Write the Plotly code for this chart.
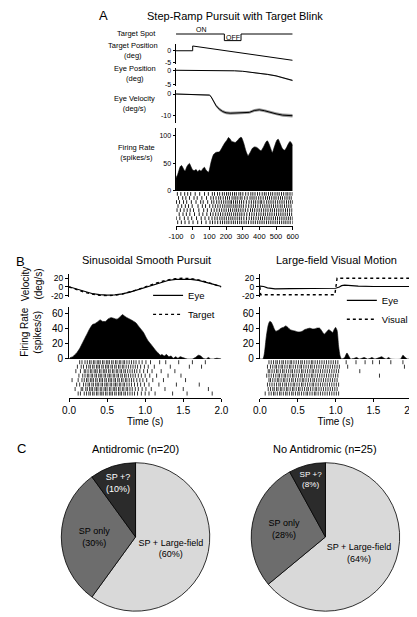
import plotly.graph_objects as go

W, H = 417, 617
FONT = "Liberation Sans, Arial, sans-serif"

# ---------------- Panel A data (time in ms) ----------------
spot_t = [-100, 190, 190, 290, 290, 600]
spot_level = [1, 1, 0, 0, 1, 1]

tpos_t = [-100, 0, 0, 600]
tpos = [0, 0, 2, -4]

epos_t = [-100, 0, 100, 150, 200, 250, 300, 350, 400, 450, 500, 550, 600]
epos = [0.05, 0.05, 0, -0.05, -0.1, -0.15, -0.3, -0.6, -1.0, -1.4, -1.9, -2.6, -3.5]
epos_sem = [0.05, 0.05, 0.05, 0.05, 0.08, 0.1, 0.12, 0.15, 0.18, 0.2, 0.22, 0.25, 0.28]

evel_t = [-100, 0, 100, 110, 125, 140, 160, 180, 200, 225, 260, 290, 340, 370, 400, 430, 460, 500, 540, 600]
evel = [0, -0.2, -0.5, -1.2, -3.5, -5.5, -7.2, -8.3, -8.9, -9.1, -9.0, -8.8, -8.7, -7.8, -7.5, -7.9, -8.6, -9.4, -10.0, -10.3]
evel_sem = [0.2, 0.2, 0.3, 0.4, 0.5, 0.6, 0.7, 0.7, 0.7, 0.7, 0.7, 0.7, 0.7, 0.7, 0.7, 0.7, 0.7, 0.8, 0.8, 0.8]

fr_a_t = [-100, -90, -75, -67, -55, -46, -35, -20, -10, 0, 10, 20, 30, 40, 50, 60, 70, 80, 95,
          110, 125, 140, 160, 175, 190, 205, 215, 225, 234, 245, 255, 270, 285, 293, 305, 320,
          332, 345, 360, 371, 385, 400, 410, 425, 440, 448, 460, 478, 490, 505, 513, 525, 540,
          552, 565, 575, 584, 595, 600]
fr_a = [24, 30, 44, 46, 40, 36, 44, 50, 44, 38, 37, 39, 35, 38, 36, 40, 43, 38, 34,
        52, 66, 70, 71, 78, 86, 92, 97, 94, 90, 89, 88, 92, 97, 97, 88, 72,
        64, 70, 78, 80, 79, 75, 73, 80, 89, 91, 84, 70, 80, 92, 94, 86, 76,
        74, 80, 86, 90, 86, 82]

raster_a = [
    [-92, -71, -48, -30, -12, 15, 42, 71, 94, 118, 131, 149, 162, 178, 190, 203, 214, 226, 239, 251, 262, 277, 288, 301, 318, 333, 349, 361, 374, 389, 402, 417, 430, 441, 455, 468, 480, 494, 507, 519, 533, 546, 560, 571, 584, 597],
    [-85, -60, -41, -19, 8, 27, 55, 83, 109, 124, 140, 156, 168, 183, 197, 209, 221, 236, 248, 259, 271, 285, 296, 312, 327, 344, 356, 368, 381, 396, 409, 423, 437, 449, 461, 474, 488, 500, 514, 527, 539, 553, 566, 579, 591],
    [-97, -79, -55, -36, -8, 20, 48, 63, 90, 114, 127, 144, 158, 172, 186, 199, 212, 224, 233, 245, 257, 268, 281, 293, 306, 322, 338, 352, 366, 378, 392, 405, 414, 428, 444, 457, 470, 483, 496, 510, 523, 536, 549, 563, 576, 588, 599],
    [-88, -66, -44, -25, -3, 32, 58, 77, 102, 121, 136, 151, 165, 180, 193, 206, 218, 230, 243, 255, 266, 279, 291, 304, 320, 336, 351, 364, 377, 391, 406, 420, 433, 446, 459, 472, 485, 498, 511, 525, 537, 551, 564, 577, 590],
    [-94, -74, -52, -33, -15, 5, 37, 66, 88, 112, 129, 145, 160, 174, 188, 201, 215, 227, 240, 253, 264, 276, 289, 302, 316, 331, 347, 359, 372, 386, 399, 412, 426, 439, 452, 466, 478, 491, 504, 517, 530, 543, 557, 569, 582, 595],
    [-81, -58, -38, -17, 11, 39, 61, 85, 107, 122, 138, 153, 167, 181, 195, 208, 220, 232, 246, 258, 270, 283, 295, 309, 325, 341, 355, 369, 383, 397, 410, 424, 436, 450, 463, 476, 490, 503, 516, 529, 542, 555, 568, 581, 594],
    [-99, -77, -50, -28, -6, 23, 51, 74, 97, 116, 133, 147, 163, 176, 189, 202, 216, 229, 241, 254, 267, 280, 292, 307, 323, 339, 353, 366, 380, 394, 407, 419, 432, 445, 458, 471, 484, 497, 509, 522, 535, 548, 561, 574, 586, 598],
    [-90, -68, -46, -22, 2, 30, 53, 80, 104, 119, 134, 150, 166, 179, 192, 205, 217, 231, 244, 256, 269, 282, 294, 308, 321, 335, 350, 363, 376, 390, 403, 416, 429, 443, 456, 469, 482, 495, 508, 521, 534, 547, 559, 572, 585, 600],
]
a_ticks = [-100, 0, 100, 200, 300, 400, 500, 600]

# ---------------- Panel B data (time in s) ----------------
sin_t = [0.0, 0.1, 0.2, 0.3, 0.4, 0.5, 0.6, 0.7, 0.8, 0.9, 1.0, 1.1, 1.2, 1.3, 1.4, 1.5, 1.6, 1.7, 1.8, 1.9, 2.0]
sin_target = [0, -6.2, -11.8, -16.2, -19.0, -20.0, -19.0, -16.2, -11.8, -6.2, 0, 6.2, 11.8, 16.2, 19.0, 20.0, 19.0, 16.2, 11.8, 6.2, 0]
sin_eye = [0.5, -5.0, -10.8, -15.0, -17.6, -18.8, -18.2, -16.0, -12.0, -6.6, -0.8, 5.2, 10.6, 14.8, 17.2, 18.0, 17.4, 15.2, 11.2, 6.0, 1.0]

fr_sin_t = [0.0, 0.02, 0.05, 0.07, 0.10, 0.14, 0.18, 0.21, 0.24, 0.27, 0.31, 0.34, 0.37, 0.41, 0.44, 0.48,
            0.51, 0.55, 0.59, 0.63, 0.67, 0.70, 0.73, 0.76, 0.80, 0.85, 0.88, 0.91, 0.95, 0.98, 1.01,
            1.04, 1.08, 1.11, 1.15, 1.18, 1.20, 1.22, 1.25, 1.28, 1.31, 1.34, 1.37, 1.40, 1.43, 1.46,
            1.49, 1.52, 1.55, 1.62, 1.66, 1.70, 1.73, 1.76, 1.80, 1.83, 1.86, 1.90, 1.94, 2.0]
fr_sin = [0, 2, 3, 5, 8, 14, 22, 28, 34, 40, 46, 47, 49, 52, 50, 50,
          53, 55, 54, 53, 56, 59, 57, 55, 53, 50, 48, 44, 39, 35, 29,
          24, 19, 15, 10, 7, 5, 6, 4, 6, 3, 4, 1, 3, 1, 3,
          2, 1, 0, 0, 2, 5, 4, 1, 0, 2, 0, 0, 1, 0]

raster_sin = [
    [0.14, 0.17, 0.21, 0.24, 0.27, 0.29, 0.32, 0.34, 0.37, 0.39, 0.41, 0.44, 0.46, 0.49, 0.51, 0.53, 0.56, 0.58, 0.61, 0.63, 0.66, 0.68, 0.71, 0.73, 0.76, 0.79, 0.82, 0.85, 0.88, 0.92, 0.96, 1.01, 1.07, 1.19, 1.27, 1.44, 1.62, 1.79],
    [0.11, 0.16, 0.19, 0.23, 0.26, 0.28, 0.31, 0.33, 0.36, 0.38, 0.40, 0.43, 0.45, 0.48, 0.50, 0.52, 0.55, 0.57, 0.60, 0.62, 0.65, 0.67, 0.70, 0.72, 0.75, 0.78, 0.81, 0.84, 0.87, 0.90, 0.94, 0.99, 1.04, 1.12, 1.33, 1.58, 1.74],
    [0.09, 0.15, 0.20, 0.22, 0.25, 0.28, 0.30, 0.33, 0.35, 0.37, 0.40, 0.42, 0.45, 0.47, 0.49, 0.52, 0.54, 0.57, 0.59, 0.62, 0.64, 0.67, 0.69, 0.72, 0.74, 0.77, 0.80, 0.83, 0.86, 0.89, 0.93, 0.98, 1.03, 1.09, 1.21, 1.39],
    [0.13, 0.18, 0.21, 0.24, 0.26, 0.29, 0.31, 0.34, 0.36, 0.39, 0.41, 0.43, 0.46, 0.48, 0.51, 0.53, 0.55, 0.58, 0.60, 0.63, 0.65, 0.68, 0.70, 0.73, 0.75, 0.78, 0.81, 0.84, 0.87, 0.91, 0.95, 1.00, 1.06, 1.15, 1.30, 1.47],
    [0.04, 0.12, 0.17, 0.20, 0.23, 0.25, 0.28, 0.30, 0.32, 0.35, 0.37, 0.40, 0.42, 0.44, 0.47, 0.49, 0.52, 0.54, 0.56, 0.59, 0.61, 0.64, 0.66, 0.69, 0.71, 0.74, 0.76, 0.79, 0.82, 0.85, 0.89, 0.93, 0.97, 1.02, 1.10, 1.24, 1.53],
    [0.10, 0.14, 0.19, 0.22, 0.25, 0.27, 0.30, 0.32, 0.35, 0.37, 0.39, 0.42, 0.44, 0.47, 0.49, 0.51, 0.54, 0.56, 0.59, 0.61, 0.63, 0.66, 0.68, 0.71, 0.73, 0.76, 0.79, 0.82, 0.86, 0.90, 0.94, 0.99, 1.05, 1.18, 1.41, 1.71],
    [0.08, 0.16, 0.18, 0.22, 0.24, 0.27, 0.29, 0.31, 0.34, 0.36, 0.38, 0.41, 0.43, 0.46, 0.48, 0.50, 0.53, 0.55, 0.58, 0.60, 0.62, 0.65, 0.67, 0.70, 0.72, 0.75, 0.77, 0.80, 0.83, 0.87, 0.91, 0.96, 1.01, 1.08, 1.26, 1.50, 1.83],
    [0.12, 0.15, 0.20, 0.23, 0.26, 0.28, 0.31, 0.33, 0.36, 0.38, 0.41, 0.43, 0.45, 0.48, 0.50, 0.53, 0.55, 0.57, 0.60, 0.62, 0.65, 0.67, 0.69, 0.72, 0.74, 0.77, 0.80, 0.83, 0.86, 0.90, 0.95, 1.00, 1.05, 1.13, 1.36, 1.55, 1.88],
]

lf_eye_t = [0, 0.05, 0.1, 0.15, 0.2, 0.4, 0.6, 0.8, 0.95, 1.0, 1.05, 1.08, 1.12, 1.2, 1.3, 1.5, 1.7, 1.9, 2.0]
lf_eye = [2, 1, -2, -4, -4.5, -4, -4, -3.5, -3, -3, 0, 3, 4, 3, 2, 1, 1.5, 1, 1]
lf_vis_t = [0, 0.01, 0.99, 1.02, 1.99, 2.0]
lf_vis = [0, -18, -18, 20, 20, 0]

fr_lf_t = [0.0, 0.04, 0.06, 0.085, 0.11, 0.13, 0.15, 0.17, 0.19, 0.21, 0.24, 0.28, 0.31, 0.34, 0.37,
           0.40, 0.43, 0.47, 0.50, 0.53, 0.56, 0.59, 0.62, 0.66, 0.69, 0.72, 0.75, 0.79, 0.82, 0.85,
           0.88, 0.91, 0.94, 0.96, 0.98, 1.00, 1.02, 1.04, 1.06, 1.08, 1.12, 1.15, 1.18, 1.20, 1.25,
           1.28, 1.31, 1.35, 1.38, 1.42, 1.46, 1.48, 1.52, 1.58, 1.61, 1.64, 1.67, 1.70, 1.73, 1.86,
           1.89, 1.92, 1.95, 2.0]
fr_lf = [0, 0, 8, 30, 45, 50, 49, 45, 40, 37, 38, 41, 42, 44, 42,
         39, 38, 37, 36, 36, 37, 39, 40, 41, 40, 40, 41, 41, 37, 33,
         36, 39, 37, 35, 39, 42, 38, 17, 4, 0, 2, 8, 3, 0, 1,
         2, 0, 1, 2, 0, 1, 2, 0, 2, 3, 1, 0, 2, 0, 0,
         5, 2, 0, 0]

raster_lf = [
    [0.12, 0.15, 0.18, 0.21, 0.23, 0.26, 0.29, 0.31, 0.34, 0.37, 0.40, 0.42, 0.45, 0.48, 0.51, 0.54, 0.56, 0.59, 0.62, 0.65, 0.68, 0.70, 0.73, 0.76, 0.79, 0.82, 0.85, 0.88, 0.91, 0.94, 0.97, 1.00, 1.03, 1.14, 1.27, 1.39, 1.49, 1.58, 1.73, 1.89],
    [0.10, 0.14, 0.17, 0.20, 0.22, 0.25, 0.28, 0.30, 0.33, 0.36, 0.39, 0.41, 0.44, 0.47, 0.50, 0.53, 0.55, 0.58, 0.61, 0.64, 0.67, 0.69, 0.72, 0.75, 0.78, 0.81, 0.84, 0.87, 0.90, 0.93, 0.96, 0.99, 1.02, 1.05, 1.16, 1.91],
    [0.11, 0.13, 0.16, 0.19, 0.22, 0.24, 0.27, 0.30, 0.32, 0.35, 0.38, 0.41, 0.43, 0.46, 0.49, 0.52, 0.55, 0.57, 0.60, 0.63, 0.66, 0.69, 0.71, 0.74, 0.77, 0.80, 0.83, 0.86, 0.89, 0.92, 0.95, 0.98, 1.01, 1.04, 1.32],
    [0.09, 0.12, 0.15, 0.18, 0.21, 0.24, 0.26, 0.29, 0.32, 0.34, 0.37, 0.40, 0.43, 0.45, 0.48, 0.51, 0.54, 0.56, 0.59, 0.62, 0.65, 0.68, 0.70, 0.73, 0.76, 0.79, 0.82, 0.85, 0.88, 0.91, 0.94, 0.97, 1.00, 1.03, 1.58],
    [0.12, 0.14, 0.17, 0.20, 0.23, 0.25, 0.28, 0.31, 0.33, 0.36, 0.39, 0.42, 0.44, 0.47, 0.50, 0.53, 0.56, 0.58, 0.61, 0.64, 0.67, 0.70, 0.72, 0.75, 0.78, 0.81, 0.84, 0.87, 0.90, 0.93, 0.96, 0.99, 1.02],
    [0.10, 0.13, 0.16, 0.19, 0.22, 0.25, 0.27, 0.30, 0.33, 0.35, 0.38, 0.41, 0.44, 0.46, 0.49, 0.52, 0.55, 0.57, 0.60, 0.63, 0.66, 0.69, 0.71, 0.74, 0.77, 0.80, 0.83, 0.86, 0.89, 0.92, 0.95, 0.98, 1.01, 1.04],
    [0.11, 0.14, 0.17, 0.19, 0.22, 0.24, 0.27, 0.29, 0.32, 0.35, 0.37, 0.40, 0.43, 0.45, 0.48, 0.51, 0.53, 0.56, 0.59, 0.62, 0.64, 0.67, 0.70, 0.73, 0.75, 0.78, 0.81, 0.84, 0.87, 0.90, 0.93, 0.96, 0.99, 1.02],
    [0.07, 0.12, 0.15, 0.18, 0.20, 0.23, 0.26, 0.28, 0.31, 0.34, 0.36, 0.39, 0.42, 0.44, 0.47, 0.50, 0.52, 0.55, 0.58, 0.61, 0.63, 0.66, 0.69, 0.72, 0.74, 0.77, 0.80, 0.83, 0.86, 0.89, 0.92, 0.95, 0.98, 1.01, 1.04],
]
b_ticks = [0.0, 0.5, 1.0, 1.5, 2.0]

# ---------------- Panel C data ----------------
pie_labels = ["SP + Large-field", "SP only", "SP +?"]
anti_counts = [12, 6, 2]
noanti_counts = [16, 7, 2]
pie_colors = ["#d9d9d9", "#6d6d6d", "#2b2b2b"]
pie_text_colors = ["black", "black", "white"]


# ---------------- helpers ----------------
def dx(a, b):
    return [a / W, b / W]


def dy(top, bottom):
    return [1 - bottom / H, 1 - top / H]


def px(x, y):
    return x / W, 1 - y / H


def raster_xy(rows):
    xs, ys = [], []
    for i, row in enumerate(rows):
        for t in row:
            xs += [t, t, None]
            ys += [i + 0.05, i + 0.95, None]
    return xs, ys


fig = go.Figure()
layout = {}

hidden = dict(visible=False, showgrid=False, zeroline=False, fixedrange=True)


def yvis(size, ticks, texts, tl=2.5):
    return dict(visible=True, showgrid=False, zeroline=False, showline=True, linecolor="black",
                linewidth=1, ticks="outside", ticklen=tl, tickwidth=1, tickcolor="black",
                tickvals=ticks, ticktext=texts, tickfont=dict(size=size, color="black", family=FONT),
                fixedrange=True)


def xvis(size, ticks, texts, tl=3):
    return dict(visible=True, showgrid=False, zeroline=False, showline=True, linecolor="black",
                linewidth=1, ticks="outside", ticklen=tl, tickwidth=1, tickcolor="black",
                tickvals=ticks, ticktext=texts, tickfont=dict(size=size, color="black", family=FONT),
                fixedrange=True)


def axes(n, xd, yd, xr, yr, xextra=None, yextra=None):
    xk = "xaxis" if n == 1 else f"xaxis{n}"
    yk = "yaxis" if n == 1 else f"yaxis{n}"
    xa = dict(hidden) if xextra is None else xextra
    ya = dict(hidden) if yextra is None else yextra
    xa.update(domain=xd, range=xr, anchor=f"y{n}" if n > 1 else "y")
    ya.update(domain=yd, range=yr, anchor=f"x{n}" if n > 1 else "x")
    layout[xk] = xa
    layout[yk] = ya
    return ("x" if n == 1 else f"x{n}"), ("y" if n == 1 else f"y{n}")


A_X = dx(166, 287)
A_R = [-100, 600]
AT = 7  # panel A tick font

# Panel A axes
ax1 = axes(1, A_X, dy(19, 34), A_R, [-0.3, 1.94])
ax2 = axes(2, A_X, dy(35, 56), A_R, [-5.7, 3.0], yextra=yvis(AT, [0, -5], ["0", "-5"]))
ax3 = axes(3, A_X, dy(59.5, 77.5), A_R, [-5.3, 0.9], yextra=yvis(AT, [0, -5], ["0", "-5"]))
ax4 = axes(4, A_X, dy(82, 115), A_R, [-13.6, 1.88], yextra=yvis(AT, [0, -10], ["0", "-10"]))
ax5 = axes(5, A_X, dy(120, 184), A_R, [0, 115], yextra=yvis(AT, [0, 50, 100], ["0", "50", "100"]))
ax6 = axes(6, A_X, dy(185, 219), A_R, [8.3, 0],
           xextra=xvis(7.5, a_ticks, [str(v) for v in a_ticks], tl=3))

# Panel B axes
BL_X = dx(55, 213)
BR_X = dx(253, 410)
B_R = [0, 2.0]
vel_ticks = [20, 0, -20]
fr_ticks = [0, 20, 40, 60]
ax7 = axes(7, BL_X, dy(268, 291), B_R, [-22.3, 29.7], yextra=yvis(8.5, vel_ticks, [str(v) for v in vel_ticks], 3))
ax8 = axes(8, BL_X, dy(301, 354), B_R, [0, 69.7], yextra=yvis(10, fr_ticks, [str(v) for v in fr_ticks], 3))
ax9 = axes(9, BL_X, dy(355, 393), B_R, [8.4, 0],
           xextra=xvis(10, b_ticks, [f"{v:.1f}" for v in b_ticks], tl=3))
layout["xaxis9"]["title"] = dict(text="Time (s)", font=dict(size=10, family=FONT, color="black"), standoff=1)
ax10 = axes(10, BR_X, dy(268, 291), B_R, [-22.3, 29.7], yextra=yvis(8.5, vel_ticks, [str(v) for v in vel_ticks], 3))
ax11 = axes(11, BR_X, dy(301, 354), B_R, [0, 69.7], yextra=yvis(10, fr_ticks, [str(v) for v in fr_ticks], 3))
ax12 = axes(12, BR_X, dy(355, 393), B_R, [8.4, 0],
            xextra=xvis(10, b_ticks, [f"{v:.1f}" for v in b_ticks], tl=3))
layout["xaxis12"]["title"] = dict(text="Time (s)", font=dict(size=10, family=FONT, color="black"), standoff=1)


def line(x, y, ax, color="black", width=1, dash=None, name=None, legend=None, showlegend=False):
    return go.Scatter(x=x, y=y, mode="lines", xaxis=ax[0], yaxis=ax[1],
                      line=dict(color=color, width=width, dash=dash),
                      name=name, showlegend=showlegend, legend=legend, hoverinfo="skip")


def band(t, m, s, ax, color="#999999"):
    up = [a + b for a, b in zip(m, s)]
    lo = [a - b for a, b in zip(m, s)]
    return [
        go.Scatter(x=t, y=up, mode="lines", line=dict(width=0, color=color), xaxis=ax[0], yaxis=ax[1],
                   showlegend=False, hoverinfo="skip"),
        go.Scatter(x=t, y=lo, mode="lines", line=dict(width=0, color=color), fill="tonexty",
                   fillcolor=color, xaxis=ax[0], yaxis=ax[1], showlegend=False, hoverinfo="skip"),
    ]


def area(t, v, ax):
    return go.Scatter(x=t, y=v, mode="lines", fill="tozeroy", fillcolor="black",
                      line=dict(color="black", width=0.6, shape="spline", smoothing=0.6),
                      xaxis=ax[0], yaxis=ax[1], showlegend=False, hoverinfo="skip")


def raster(rows, ax, width=0.8):
    xs, ys = raster_xy(rows)
    return go.Scatter(x=xs, y=ys, mode="lines", line=dict(color="black", width=width),
                      xaxis=ax[0], yaxis=ax[1], showlegend=False, hoverinfo="skip", connectgaps=False)


# Panel A traces
fig.add_trace(line(spot_t, spot_level, ax1, width=1))
fig.add_trace(line(tpos_t, tpos, ax2, width=1))
for tr in band(epos_t, epos, epos_sem, ax3):
    fig.add_trace(tr)
fig.add_trace(line(epos_t, epos, ax3, width=1))
for tr in band(evel_t, evel, evel_sem, ax4):
    fig.add_trace(tr)
fig.add_trace(line(evel_t, evel, ax4, width=1))
fig.add_trace(area(fr_a_t, fr_a, ax5))
fig.add_trace(raster(raster_a, ax6, width=0.9))

# Panel B left
fig.add_trace(line(sin_t, sin_eye, ax7, width=1.2, name="Eye", legend="legend", showlegend=True))
fig.add_trace(line(sin_t, sin_target, ax7, width=1.4, dash="dot", name="Target", legend="legend", showlegend=True))
fig.add_trace(area(fr_sin_t, fr_sin, ax8))
fig.add_trace(raster(raster_sin, ax9))

# Panel B right
fig.add_trace(line(lf_eye_t, lf_eye, ax10, width=1.2, name="Eye", legend="legend2", showlegend=True))
fig.add_trace(line(lf_vis_t, lf_vis, ax10, width=1.4, dash="dot", name="Visual", legend="legend2", showlegend=True))
fig.add_trace(area(fr_lf_t, fr_lf, ax11))
fig.add_trace(raster(raster_lf, ax12))

# Panel C pies
for counts, xd in [(anti_counts, dx(47, 201)), (noanti_counts, dx(244, 398))]:
    tot = sum(counts)
    texts = [f"{lab}<br>({round(100 * c / tot)}%)" for lab, c in zip(pie_labels, counts)]
    fig.add_trace(go.Pie(values=counts, labels=pie_labels, text=texts, textinfo="text",
                         textposition="inside", insidetextorientation="horizontal",
                         sort=False, direction="clockwise", rotation=0,
                         marker=dict(colors=pie_colors, line=dict(color="black", width=0.8)),
                         textfont=dict(size=9, family=FONT, color=pie_text_colors),
                         domain=dict(x=xd, y=dy(457, 611)), showlegend=False, hoverinfo="skip"))

# annotations
ann = []


def note(text, x, y, size, xanchor="center", yanchor="middle", align="center", angle=0):
    xx, yy = px(x, y)
    ann.append(dict(text=text, x=xx, y=yy, xref="paper", yref="paper", showarrow=False,
                    xanchor=xanchor, yanchor=yanchor, align=align, textangle=angle,
                    font=dict(size=size, family=FONT, color="black")))


note("A", 91, 7, 13)
note("Step-Ramp Pursuit with Target Blink", 227, 7, 11)
note("Target Spot", 125, 25, 7.5)
note("Target Position<br>(deg)", 121, 42, 7.5)
note("Eye Position<br>(deg)", 123, 65.5, 7.5)
note("Eye Velocity<br>(deg/s)", 123, 95.5, 7.5)
note("Firing Rate<br>(spikes/s)", 124.5, 145, 7.5)
ann.append(dict(text="ON", x=50, y=1, xref=ax1[0], yref=ax1[1], showarrow=False, yanchor="bottom",
                yshift=-1, font=dict(size=7, family=FONT, color="black")))
ann.append(dict(text="OFF", x=240, y=0.5, xref=ax1[0], yref=ax1[1], showarrow=False, yanchor="middle",
                font=dict(size=7, family=FONT, color="black")))
note("B", 5, 255, 13)
note("Sinusoidal Smooth Pursuit", 135, 254, 11)
note("Large-field Visual Motion", 332, 254, 11)
note("Velocity<br>(deg/s)", 16, 278, 10, angle=-90)
note("Firing Rate<br>(spikes/s)", 16, 327, 10, angle=-90)
note("C", 6, 445, 13)
note("Antidromic (n=20)", 124, 445, 11)
note("No Antidromic (n=25)", 321, 445, 11)

lx1, ly1 = px(137, 275)
lx2, ly2 = px(338, 280)
layout.update(
    width=W, height=H,
    margin=dict(l=0, r=0, t=0, b=0),
    paper_bgcolor="white", plot_bgcolor="white",
    font=dict(family=FONT, color="black", size=10),
    annotations=ann,
    legend=dict(x=lx1, y=ly1, xanchor="left", yanchor="top", bgcolor="rgba(0,0,0,0)",
                traceorder="normal", font=dict(size=9.5, family=FONT, color="black"), tracegroupgap=0),
    legend2=dict(x=lx2, y=ly2, xanchor="left", yanchor="top", bgcolor="rgba(0,0,0,0)",
                 traceorder="normal", font=dict(size=9.5, family=FONT, color="black"), tracegroupgap=0),
)
fig.update_layout(**layout)
fig.write_html("out.html")
